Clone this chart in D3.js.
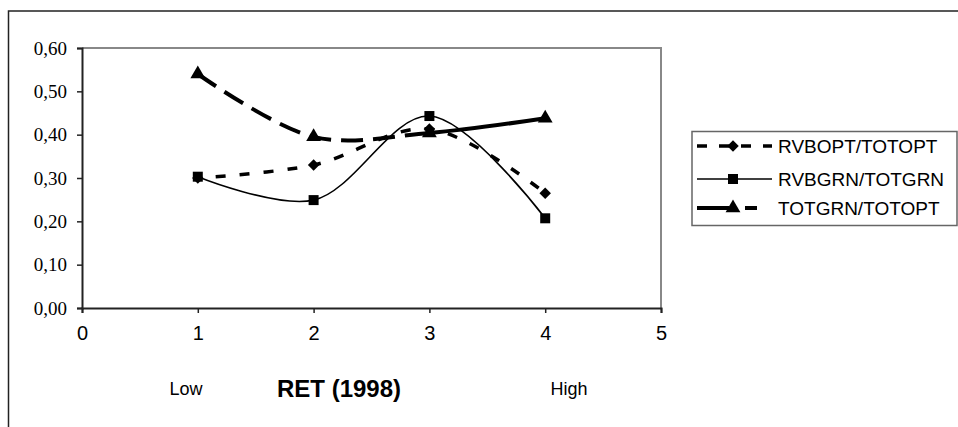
<!DOCTYPE html>
<html>
<head>
<meta charset="utf-8">
<script src="https://cdn.jsdelivr.net/npm/d3@7"></script>
<style>
  body { margin: 0; background: #fff; }
  svg { display: block; }
</style>
</head>
<body>
<div id="chart"></div>
<script>
// values
var xValues = [1, 2, 3, 4];
var seriesNames = ['RVBOPT/TOTOPT', 'RVBGRN/TOTGRN', 'TOTGRN/TOTOPT'];
var rvbopt = [0.30, 0.33, 0.413, 0.265];
var rvbgrn = [0.303, 0.249, 0.443, 0.207];
var totgrn = [0.54, 0.395, 0.404, 0.438];
var yTicks = [0, 0.1, 0.2, 0.3, 0.4, 0.5, 0.6];
var xTicks = [0, 1, 2, 3, 4, 5];

var width = 958, height = 427;
var plot = { left: 82, right: 661, top: 48, bottom: 308 };

var svg = d3.select("#chart").append("svg")
    .attr("width", width)
    .attr("height", height);

// outer chart frame (runs off the right and bottom edge)
svg.append("rect")
    .attr("x", 8.5).attr("y", 11)
    .attr("width", 1000).attr("height", 500)
    .attr("fill", "none")
    .attr("stroke", "#222")
    .attr("stroke-width", 1.5);

var x = d3.scaleLinear().domain([0, 5]).range([plot.left, plot.right]);
var y = d3.scaleLinear().domain([0, 0.6]).range([plot.bottom, plot.top]);

// plot area border (grey, top + right)
svg.append("path")
    .attr("d", "M" + plot.left + "," + plot.top + "H" + plot.right + "V" + plot.bottom)
    .attr("fill", "none")
    .attr("stroke", "#888")
    .attr("stroke-width", 2);

var fmt = function (d) { return d3.format(".2f")(d).replace(".", ","); };

var yAxis = svg.append("g")
    .attr("transform", "translate(" + plot.left + ",0)")
    .call(d3.axisLeft(y).tickValues(yTicks).tickSize(5).tickPadding(10).tickFormat(fmt));
yAxis.selectAll("text")
    .style("font-family", "'Liberation Serif', 'Times New Roman', serif")
    .style("font-size", "19px")
    .attr("fill", "#000");

var xAxis = svg.append("g")
    .attr("transform", "translate(0," + plot.bottom + ")")
    .call(d3.axisBottom(x).tickValues(xTicks).tickSize(5).tickPadding(13).tickFormat(d3.format("d")));
xAxis.selectAll("text")
    .style("font-family", "'Liberation Sans', Arial, sans-serif")
    .style("font-size", "20px")
    .attr("fill", "#000");

svg.selectAll(".domain").attr("stroke", "#222").attr("stroke-width", 2);
svg.selectAll(".tick line").attr("stroke", "#222").attr("stroke-width", 1.5);

// axis captions
var cap = svg.append("g").style("font-family", "'Liberation Sans', Arial, sans-serif").attr("fill", "#000");
cap.append("text").attr("x", 186).attr("y", 395).attr("text-anchor", "middle").style("font-size", "18px").text("Low");
cap.append("text").attr("x", 339).attr("y", 397).attr("text-anchor", "middle").style("font-size", "24px").style("font-weight", "bold").text("RET (1998)");
cap.append("text").attr("x", 569).attr("y", 395).attr("text-anchor", "middle").style("font-size", "18px").text("High");

var line = d3.line()
    .x(function (d) { return x(d[0]); })
    .y(function (d) { return y(d[1]); })
    .curve(d3.curveCatmullRom.alpha(0.5));

function pts(vals) { return xValues.map(function (v, i) { return [v, vals[i]]; }); }

var lines = svg.append("g").attr("fill", "none").attr("stroke", "#000");

// RVBOPT: thick short dashes
lines.append("path")
    .attr("d", line(pts(rvbopt)))
    .attr("stroke-width", 3.5)
    .attr("stroke-dasharray", "10,14")
    .attr("stroke-dashoffset", -18);

// RVBGRN: thin solid
lines.append("path")
    .attr("d", line(pts(rvbgrn)))
    .attr("stroke-width", 1.6);

// TOTGRN: thick long dashes up to x=3, solid afterwards
var tot = lines.append("path")
    .attr("d", line(pts(totgrn)))
    .attr("stroke-width", 4);
(function () {
    var node = tot.node(), total = node.getTotalLength();
    var lo = 0, hi = total, target = x(3);
    for (var k = 0; k < 40; k++) {
        var mid = (lo + hi) / 2;
        if (node.getPointAtLength(mid).x < target) lo = mid; else hi = mid;
    }
    var arr = [], s = 0;
    while (s + 32 < lo) { arr.push(22, 10); s += 32; }
    arr.push(total, 0);
    tot.attr("stroke-dasharray", arr.join(","));
})();

// diamond = square turned 45 degrees
var sym = {
    diamond: { d: d3.symbol().type(d3.symbolSquare).size(66)(), rot: 45 },
    square: { d: d3.symbol().type(d3.symbolSquare).size(100)(), rot: 0 },
    triangle: { d: d3.symbol().type(d3.symbolTriangle).size(95)(), rot: 0 }
};

function markers(vals, s) {
    svg.append("g").selectAll("path")
        .data(pts(vals))
        .enter().append("path")
        .attr("transform", function (d) { return "translate(" + x(d[0]) + "," + y(d[1]) + ")rotate(" + s.rot + ")"; })
        .attr("d", s.d)
        .attr("fill", "#000");
}
markers(rvbopt, sym.diamond);
markers(rvbgrn, sym.square);
markers(totgrn, sym.triangle);

// legend
var lg = svg.append("g");
lg.append("rect")
    .attr("x", 692).attr("y", 131.5)
    .attr("width", 265).attr("height", 94)
    .attr("fill", "#fff")
    .attr("stroke", "#666")
    .attr("stroke-width", 1.5);

var legendRows = [
    { name: seriesNames[0], y: 146, width: 3.5, dash: "10,12", s: sym.diamond },
    { name: seriesNames[1], y: 179, width: 1.6, dash: null, s: sym.square },
    { name: seriesNames[2], y: 208, width: 4, dash: "32,16,12,20", s: sym.triangle }
];
legendRows.forEach(function (r) {
    var l = lg.append("line")
        .attr("x1", 697).attr("x2", 772)
        .attr("y1", r.y).attr("y2", r.y)
        .attr("stroke", "#000")
        .attr("stroke-width", r.width);
    if (r.dash) l.attr("stroke-dasharray", r.dash);
    lg.append("path")
        .attr("transform", "translate(733," + r.y + ")rotate(" + r.s.rot + ")")
        .attr("d", r.s.d)
        .attr("fill", "#000");
    lg.append("text")
        .attr("x", 778).attr("y", r.y)
        .attr("dy", "0.36em")
        .style("font-family", "'Liberation Sans', Arial, sans-serif")
        .style("font-size", "19px")
        .attr("fill", "#000")
        .text(r.name);
});
</script>
</body>
</html>
